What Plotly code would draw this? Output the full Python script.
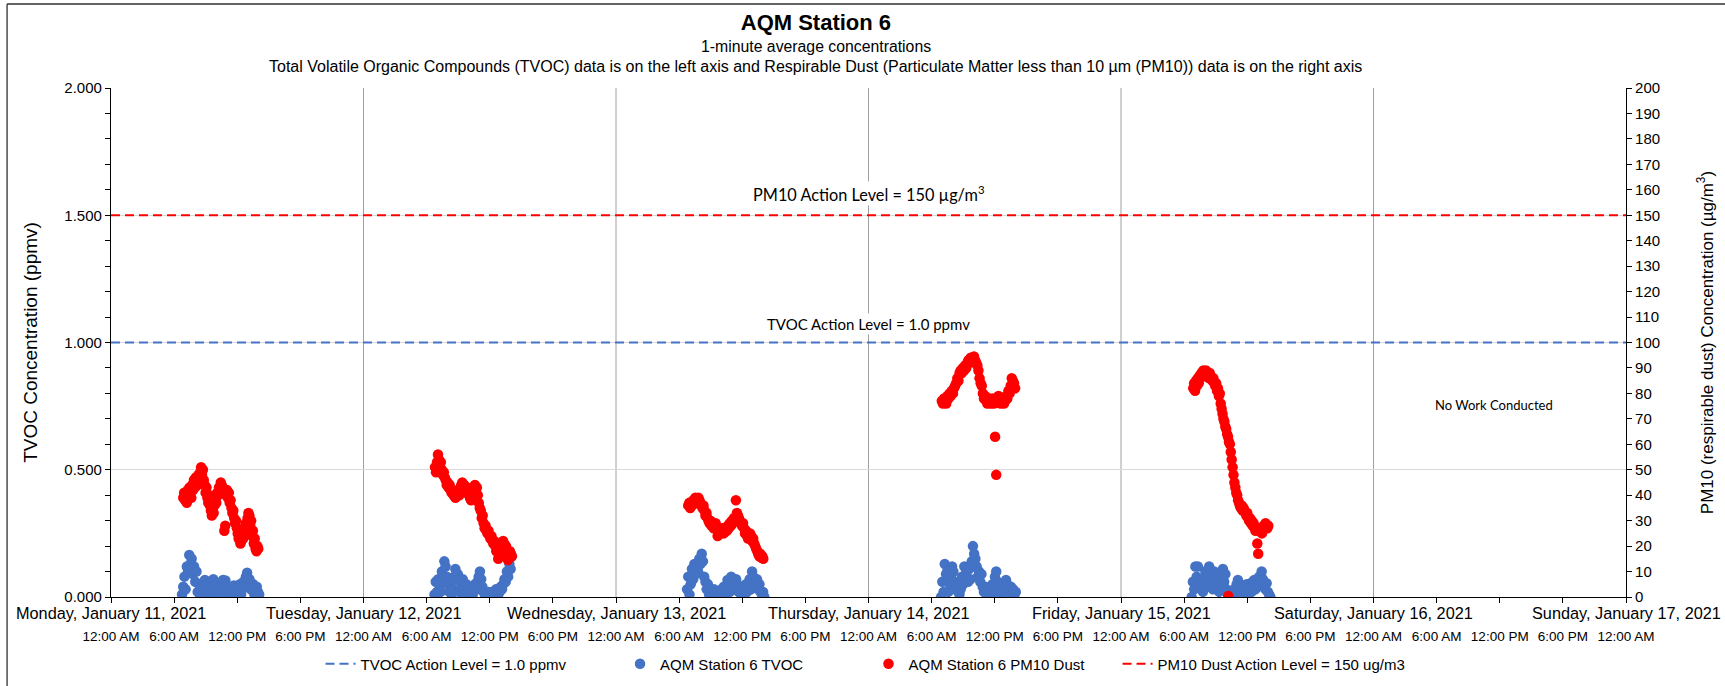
import pandas as pd
import plotly.graph_objects as go

# ---------------- data ----------------
day_ticks = ["2021-01-11", "2021-01-12", "2021-01-13", "2021-01-14",
             "2021-01-15", "2021-01-16", "2021-01-17"]
day_labels = ["Monday, January 11, 2021", "Tuesday, January 12, 2021",
              "Wednesday, January 13, 2021", "Thursday, January 14, 2021",
              "Friday, January 15, 2021", "Saturday, January 16, 2021",
              "Sunday, January 17, 2021"]

action_x = ["2021-01-11 00:00", "2021-01-17 00:00"]
tvoc_action_level = [1.0, 1.0]
pm10_action_level = [150, 150]

# TVOC (ppmv): 1-minute averages, spread evenly between
# the first and last reading of each work day
tvoc_starts = ["2021-01-11 06:45", "2021-01-12 06:45", "2021-01-13 06:45",
               "2021-01-14 06:54", "2021-01-15 06:43"]
tvoc_ends = ["2021-01-11 14:05", "2021-01-12 14:06", "2021-01-13 14:06",
             "2021-01-14 14:00", "2021-01-15 14:12"]
tvoc_jan11 = [0.01, 0.04, 0.08, 0.03, 0.12, 0.10, 0.165, 0.13, 0.15, 0.09,
              0.12, 0.06, 0.10, 0.02, 0.05, 0.00, 0.03, 0.01, 0.05, 0.067,
              0.03, 0.01, 0.05, 0.02, 0.01, 0.04, 0.07, 0.03, 0.05, 0.01,
              0.02, 0.04, 0.00, 0.05, 0.067, 0.03, 0.065, 0.01, 0.02, 0.04,
              0.00, 0.03, 0.02, 0.045, 0.01, 0.03, 0.04, 0.02, 0.05, 0.01,
              0.03, 0.06, 0.04, 0.08, 0.095, 0.06, 0.07, 0.03, 0.04, 0.05,
              0.01, 0.03, 0.04, 0.02, 0.01]
tvoc_jan12 = [0.01, 0.06, 0.02, 0.07, 0.03, 0.02, 0.10, 0.06, 0.14, 0.12,
              0.08, 0.05, 0.02, 0.05, 0.01, 0.03, 0.08, 0.11, 0.07, 0.09,
              0.02, 0.06, 0.04, 0.07, 0.01, 0.03, 0.05, 0.02, 0.03, 0.01,
              0.04, 0.00, 0.02, 0.05, 0.03, 0.06, 0.08, 0.10, 0.07, 0.04,
              0.02, 0.01, 0.00, 0.01, 0.02, 0.00, 0.01, 0.02, 0.00, 0.01,
              0.03, 0.02, 0.01, 0.02, 0.04, 0.03, 0.05, 0.07, 0.06, 0.10,
              0.08, 0.13, 0.11, 0.16]
tvoc_jan13 = [0.03, 0.08, 0.01, 0.05, 0.11, 0.07, 0.13, 0.09, 0.12, 0.10,
              0.15, 0.13, 0.17, 0.14, 0.08, 0.06, 0.03, 0.05, 0.01, 0.00,
              0.02, 0.01, 0.03, 0.00, 0.02, 0.01, 0.00, 0.01, 0.03, 0.02,
              0.04, 0.01, 0.03, 0.067, 0.05, 0.02, 0.08, 0.04, 0.06, 0.03,
              0.07, 0.05, 0.02, 0.03, 0.01, 0.02, 0.03, 0.01, 0.05, 0.02,
              0.04, 0.07, 0.03, 0.10, 0.08, 0.06, 0.04, 0.07, 0.03, 0.05,
              0.02, 0.01, 0.02, 0.00]
tvoc_jan14 = [0.00, 0.06, 0.02, 0.13, 0.09, 0.10, 0.02, 0.05, 0.08, 0.12,
              0.10, 0.06, 0.03, 0.05, 0.02, 0.01, 0.03, 0.08, 0.05, 0.12,
              0.09, 0.11, 0.06, 0.11, 0.07, 0.14, 0.20, 0.17, 0.15, 0.12,
              0.08, 0.10, 0.06, 0.09, 0.04, 0.02, 0.04, 0.01, 0.03, 0.02,
              0.04, 0.02, 0.05, 0.01, 0.08, 0.10, 0.06, 0.03, 0.05, 0.02,
              0.01, 0.04, 0.02, 0.067, 0.05, 0.03, 0.02, 0.04, 0.01, 0.03,
              0.01, 0.02]
tvoc_jan15 = [0.00, 0.06, 0.03, 0.12, 0.08, 0.12, 0.05, 0.04, 0.07, 0.02,
              0.05, 0.10, 0.07, 0.04, 0.12, 0.09, 0.06, 0.03, 0.10, 0.06,
              0.08, 0.05, 0.02, 0.04, 0.08, 0.11, 0.06, 0.09, 0.03, 0.01,
              0.02, 0.00, 0.01, 0.00, 0.03, 0.01, 0.05, 0.067, 0.04, 0.02,
              0.03, 0.045, 0.01, 0.03, 0.05, 0.02, 0.03, 0.054, 0.02, 0.04,
              0.067, 0.03, 0.05, 0.04, 0.08, 0.06, 0.10, 0.07, 0.05, 0.03,
              0.054, 0.02, 0.01, 0.00]

# PM10 (ug/m3)
pm10_starts = ["2021-01-11 06:52", "2021-01-12 06:48", "2021-01-13 06:52",
               "2021-01-14 06:58", "2021-01-15 06:52"]
pm10_ends = ["2021-01-11 14:00", "2021-01-12 14:06", "2021-01-13 14:00",
             "2021-01-14 13:56", "2021-01-15 14:00"]
pm10_jan11 = [39, 41, 38, 40, 37, 42, 40, 43, 41, 39, 44, 42, 46, 43, 47, 45,
              44, 48, 46, 49, 51, 48, 50, 46, 44, 41, 43, 39, 37, 40, 36, 34,
              32, 35, 33, 36, 38, 37, 41, 40, 43, 42, 45, 44, 43, 41, 26, 28,
              40, 42, 39, 41, 37, 38, 35, 33, 34, 31, 29, 30, 27, 25, 23, 24,
              21, 22, 25, 23, 27, 26, 29, 28, 31, 33, 32, 28, 30, 24, 26, 21,
              23, 19, 18, 20, 19]
pm10_jan12 = [51, 49, 53, 56, 54, 52, 53, 50, 48, 49, 47, 46, 44, 45, 43, 44,
              42, 41, 42, 40, 41, 39, 40, 41, 42, 40, 43, 44, 45, 43, 44, 42,
              41, 43, 42, 40, 39, 38, 40, 41, 43, 44, 42, 43, 40, 37, 35, 34,
              31, 32, 29, 27, 28, 26, 25, 26, 24, 23, 24, 22, 21, 22, 20, 18,
              19, 15, 17, 19, 21, 20, 22, 21, 19, 20, 16, 14.5, 16, 18, 17, 16]
pm10_jan13 = [36, 37, 35, 37, 36, 38, 37, 39, 38, 37, 39, 38, 37, 36, 35, 36,
              34, 32, 33, 31, 30, 29, 30, 28, 29, 27, 28, 29, 27, 24, 26, 27,
              25, 26, 27, 25, 26, 27, 26, 28, 27, 29, 28, 30, 29, 31, 30, 38,
              33, 32, 31, 30, 29, 28, 29, 27, 25, 26, 24, 23, 24, 25, 24, 22,
              23, 21, 20, 19, 18, 17, 16, 17, 15.5, 16, 15]
pm10_jan14 = [77, 76, 78, 77, 76, 79, 78, 80, 79, 81, 80, 82, 83, 84, 86, 85,
              88, 89, 88, 90, 89, 91, 90, 92, 93, 92, 94, 93, 94, 94.5, 93, 92,
              91, 89, 86, 84, 83, 80, 78, 79, 77, 76, 77, 78, 76, 77, 78, 76,
              63, 48, 77, 79, 78, 76, 77, 78, 76, 77, 79, 78, 81, 80, 83, 86,
              85, 84, 82]
pm10_jan15 = [82, 84, 81, 85, 83, 86, 84, 87, 86, 88, 87, 89, 88, 87, 89, 88,
              87, 86, 88, 87, 86, 85, 86, 84, 83, 84, 81, 82, 79, 80, 76, 74,
              72, 70, 69, 67, 66, 64, 63, 61, 60, 57, 54, 51, 48, 45, 43, 41,
              40, 38, 37, 36, 35, 36, 34, 35, 34, 33, 32, 33, 31, 30, 31, 29,
              30, 28, 29, 27, 26, 27, 21, 17, 26, 27, 26, 25, 27, 28, 27, 29,
              28, 27, 28]
pm10_extra_times = ["2021-01-15 10:12"]
pm10_extra_values = [0.4]

tvoc_days = [tvoc_jan11, tvoc_jan12, tvoc_jan13, tvoc_jan14, tvoc_jan15]
pm10_days = [pm10_jan11, pm10_jan12, pm10_jan13, pm10_jan14, pm10_jan15]


def build(starts, ends, days):
    xs, ys = [], []
    for s, e, vals in zip(starts, ends, days):
        t = pd.date_range(s, e, periods=len(vals))
        xs.extend(t)
        ys.extend(vals)
    return xs, ys


tvoc_x, tvoc_y = build(tvoc_starts, tvoc_ends, tvoc_days)
pm10_x, pm10_y = build(pm10_starts, pm10_ends, pm10_days)
pm10_x += list(pd.to_datetime(pm10_extra_times))
pm10_y += pm10_extra_values

# ---------------- figure ----------------
FONT = "Liberation Sans, Arial, sans-serif"
NOTE_FONT = "Lato, Carlito, sans-serif"
BLUE = "#4472C4"
RED = "#FF0000"
MS = 10.5

fig = go.Figure()
fig.add_trace(go.Scatter(x=action_x, y=tvoc_action_level, mode="lines",
                         name="TVOC Action Level = 1.0 ppmv", legend="legend",
                         line=dict(color=BLUE, width=2.2, dash="9px,5px")))
fig.add_trace(go.Scatter(x=tvoc_x, y=tvoc_y, mode="markers",
                         name="AQM Station 6 TVOC", legend="legend2",
                         marker=dict(color=BLUE, size=MS, line=dict(width=0))))
fig.add_trace(go.Scatter(x=pm10_x, y=pm10_y, mode="markers", yaxis="y2",
                         name="AQM Station 6 PM10 Dust", legend="legend3",
                         marker=dict(color=RED, size=MS, line=dict(width=0))))
fig.add_trace(go.Scatter(x=action_x, y=pm10_action_level, mode="lines",
                         yaxis="y2", name="PM10 Dust Action Level = 150 ug/m3",
                         legend="legend4",
                         line=dict(color=RED, width=2.2, dash="9px,5px")))

shapes = []
for d in day_ticks[1:-1]:
    shapes.append(dict(type="line", xref="x", yref="paper", x0=d, x1=d,
                       y0=0, y1=1, line=dict(color="#A0A0A0", width=1),
                       layer="below"))
# chart-area border (top and left edges visible)
shapes.append(dict(type="line", xref="paper", yref="paper", x0=-0.0686, x1=1.07,
                   y0=1.165, y1=1.165, line=dict(color="#303030", width=1.3)))
shapes.append(dict(type="line", xref="paper", yref="paper", x0=-0.0686, x1=-0.0686,
                   y0=1.165, y1=-0.2, line=dict(color="#303030", width=1.3)))

annotations = []
for d, lab in zip(day_ticks, day_labels):
    annotations.append(dict(x=d, y=-0.031, xref="x", yref="paper", text=lab,
                            showarrow=False, xanchor="center", yanchor="middle",
                            font=dict(family=FONT, size=16.3, color="black")))
annotations += [
    dict(x=0.4653, y=1.0825, xref="paper", yref="paper",
         text="1-minute average concentrations", showarrow=False,
         font=dict(family=FONT, size=15.8, color="black"), yanchor="middle"),
    dict(x=0.4653, y=1.0432, xref="paper", yref="paper",
         text="Total Volatile Organic Compounds (TVOC) data is on the left axis and "
              "Respirable Dust (Particulate Matter less than 10 µm (PM10)) data is on the right axis",
         showarrow=False, font=dict(family=FONT, size=16, color="black"),
         yanchor="middle"),
    dict(x="2021-01-14 00:00", y=158.5, xref="x", yref="y2",
         text="PM10 Action Level = 150 µg/m<sup>3</sup>", showarrow=False,
         bgcolor="white", font=dict(family=NOTE_FONT, size=16.3, color="black")),
    dict(x="2021-01-14 00:00", y=1.071, xref="x", yref="y",
         text="TVOC Action Level = 1.0 ppmv", showarrow=False, bgcolor="white",
         font=dict(family=NOTE_FONT, size=15, color="black")),
    dict(x="2021-01-16 11:27", y=75.5, xref="x", yref="y2",
         text="No Work Conducted", showarrow=False,
         font=dict(family=NOTE_FONT, size=13, color="black")),
]


def legend_at(xp):
    return dict(orientation="h", x=xp, xanchor="left", y=1 - 664 / 686,
                yref="container", yanchor="middle", bgcolor="rgba(0,0,0,0)",
                font=dict(family=FONT, size=15, color="black"))


fig.update_layout(
    width=1725, height=686,
    margin=dict(l=111, r=99, t=88, b=89, autoexpand=False),
    paper_bgcolor="white", plot_bgcolor="white",
    font=dict(family=FONT, color="black"),
    title=dict(text="<b>AQM Station 6</b>", x=0.473, xref="container",
               y=1 - 22 / 686, yref="container", xanchor="center",
               yanchor="middle", font=dict(family=FONT, size=22, color="black")),
    showlegend=True,
    legend=legend_at(0.1383),
    legend2=legend_at(0.3360),
    legend3=legend_at(0.5000),
    legend4=legend_at(0.6644),
    xaxis=dict(range=[action_x[0], action_x[1]], type="date",
               tick0="2021-01-11", dtick=6 * 3600 * 1000,
               tickformat="%-I:%M %p", ticks="outside", ticklen=5,
               tickcolor="black", showline=True, linecolor="black",
               linewidth=1.2, showgrid=False, zeroline=False,
               ticklabelstandoff=22, automargin=False,
               tickfont=dict(family=FONT, size=13.5, color="black")),
    yaxis=dict(range=[0, 2], dtick=0.5, tickformat=".3f", ticks="outside",
               ticklen=5, tickcolor="black", showline=True, linecolor="black",
               linewidth=1.2, showgrid=True, gridcolor="#D9D9D9", gridwidth=1,
               zeroline=False, automargin=False,
               minor=dict(dtick=0.1, ticks="outside", ticklen=5,
                          tickcolor="black", showgrid=False),
               title=dict(text="TVOC Concentration (ppmv)",
                          font=dict(family=FONT, size=19, color="black"),
                          standoff=21),
               tickfont=dict(family=FONT, size=15, color="black")),
    yaxis2=dict(range=[0, 200], dtick=10, overlaying="y", side="right",
                ticks="outside", ticklen=5, tickcolor="black", showline=True,
                linecolor="black", linewidth=1.2, showgrid=False,
                zeroline=False, automargin=False,
                title=dict(text="PM10 (respirable dust) Concentration (µg/m<sup>3</sup>)",
                           font=dict(family=FONT, size=17, color="black"),
                           standoff=41),
                tickfont=dict(family=FONT, size=15, color="black")),
    shapes=shapes,
    annotations=annotations,
)

fig.write_html("out.html", config={"displayModeBar": False},
               post_script="document.body.style.margin='0';")
